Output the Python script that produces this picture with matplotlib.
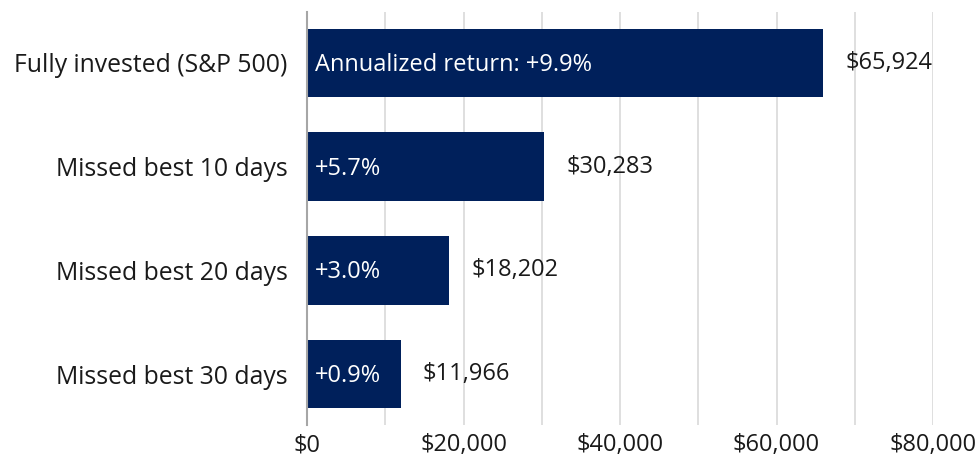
import matplotlib.pyplot as plt
from matplotlib.ticker import MultipleLocator, FuncFormatter

categories = ["Fully invested (S&P 500)", "Missed best 10 days",
              "Missed best 20 days", "Missed best 30 days"]
values = [65924, 30283, 18202, 11966]
returns = ["Annualized return: +9.9%", "+5.7%", "+3.0%", "+0.9%"]

navy = "#00205B"
fs = 17
plt.rcParams["font.family"] = ["Open Sans", "DejaVu Sans"]

fig = plt.figure(figsize=(9.79, 4.57), dpi=100)
ax = fig.add_axes([307 / 979, 1 - 425 / 457, (933 - 307) / 979, (425 - 12) / 457])

y = range(len(categories))
ax.barh(y, values, height=0.66, color=navy, zorder=3)

for i, v in enumerate(values):
    ax.annotate(returns[i], (0, i), xytext=(6, -1.5), textcoords="offset points",
                va="center", ha="left", color="white", fontsize=fs, zorder=4)
    ax.annotate(f"${v:,}", (v, i), xytext=(16, 0), textcoords="offset points",
                va="center", ha="left", color="#1a1a1a", fontsize=fs)

ax.set_xlim(0, 80000)
ax.set_ylim(3.49, -0.49)
ax.set_yticks(list(y))
ax.set_yticklabels(categories, fontsize=17.8, color="#1a1a1a")
ax.xaxis.set_major_locator(MultipleLocator(20000))
ax.xaxis.set_minor_locator(MultipleLocator(10000))
ax.xaxis.set_major_formatter(FuncFormatter(lambda x, p: f"${x:,.0f}"))
ax.tick_params(axis="x", labelsize=fs, colors="#1a1a1a", length=0, which="both", pad=6)
ax.tick_params(axis="y", length=0, pad=14)
ax.grid(axis="x", which="both", color="#d9d9d9", linewidth=1.2, zorder=0)

for s in ["top", "right", "bottom"]:
    ax.spines[s].set_visible(False)
ax.spines["left"].set_color("#a6a6a6")
ax.spines["left"].set_linewidth(1.5)
ax.spines["left"].set_zorder(5)

fig.savefig("out.png", dpi=100)
